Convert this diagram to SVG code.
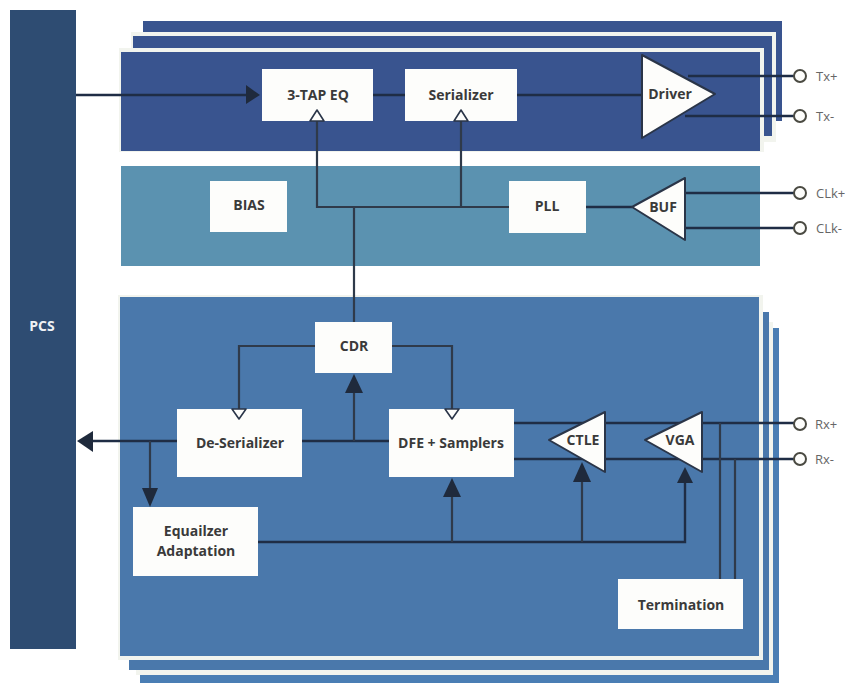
<svg xmlns="http://www.w3.org/2000/svg" width="845" height="683" viewBox="0 0 845 683">
<style>
.box{fill:#fdfdfb}
.lbl{font-family:"Open Sans","Liberation Sans",sans-serif;font-size:14px;font-weight:700;fill:#3a3a3a;text-anchor:middle}
.pin{font-family:"Open Sans","Liberation Sans",sans-serif;font-size:13px;fill:#666;text-anchor:start}
.w{fill:none;stroke:#1f2d45;stroke-width:2.4}
.t{fill:none;stroke:#2f3a4a;stroke-width:2.2}
.tri{fill:#fdfdfb;stroke:#2a3548;stroke-width:2;stroke-linejoin:round}
.pt{fill:#fdfdfb;stroke:#4a4a42;stroke-width:2}
.a{fill:#1f2a3c}
.c{fill:#fdfdfb;stroke:#2a3548;stroke-width:1.6;stroke-linejoin:round}
.tx{fill:#39548f}.rx{fill:#4a78ab}.rxb{fill:#4a7eb4}
</style>
<rect width="845" height="683" fill="#fff"/>
<g id="stack-tx">
<rect class="tx" x="143" y="21" width="639" height="100"/>
<rect x="131" y="32" width="645" height="110" fill="#f2f4ee"/>
<rect class="tx" x="133" y="36" width="639" height="100"/>
<rect x="119" y="48" width="645" height="104" fill="#f2f4ee"/>
</g>
<g id="stack-rx">
<rect class="rxb" x="140" y="328" width="639" height="355"/>
<rect x="136" y="322" width="637" height="353" fill="#f2f4ee"/>
<rect class="rx" x="129" y="312" width="640" height="358"/>
<rect x="118" y="295" width="645" height="365" fill="#f2f4ee"/>
</g>
<g id="PCS"><rect x="10" y="10" width="66" height="639" fill="#2e4c72"/><text x="42" y="331" text-anchor="middle" font-family="Open Sans, Liberation Sans, sans-serif" font-size="14" font-weight="700" fill="#eef1f4">PCS</text></g>
<g id="tx-panel"><rect class="tx" x="121" y="52" width="639" height="99"/></g>
<g id="clk-panel"><rect x="121" y="166" width="639" height="100" fill="#5b92b0"/></g>
<g id="rx-panel"><rect class="rx" x="120" y="297" width="639" height="359"/></g>
<g id="connectors">
<path class="w" d="M76 95H248"/><polygon class="a" points="260,95 246,85 246,104"/>
<path class="w" d="M373 95H405M517 95H642"/>
<path class="w" d="M688 76H794M685 116H794"/>
<path class="t" d="M317 120V207H509M461 120V207M354 207V322"/>
<path class="w" d="M586 207H632M685 193H794M685 228H794"/>
<path class="t" d="M315 346H239V410M392 346H452V410"/>
<path class="w" d="M177 441H92M302 441H389"/><polygon class="a" points="77,441 93,431 93,452"/>
<path class="t" d="M150 441V490"/><polygon class="a" points="150,507 142,488 158,488"/>
<path class="t" d="M354 441V392"/><polygon class="a" points="354,374 345,393 363,393"/>
<path class="w" d="M258 542H685V482"/>
<path class="t" d="M452 542V495M582 542V480"/>
<polygon class="a" points="452,478 443,497 461,497"/>
<path class="w" d="M514 423H794M514 459H794"/>
<path class="t" d="M720 423V579M735 459V579"/>
</g>
<g id="n3tap"><rect class="box" x="262" y="69" width="111" height="52"/><text class="lbl" x="318" y="100">3-TAP EQ</text></g>
<g id="serializer"><rect class="box" x="405" y="69" width="112" height="52"/><text class="lbl" x="461" y="100">Serializer</text></g>
<g id="bias"><rect class="box" x="210" y="181" width="77" height="51"/><text class="lbl" x="249" y="210">BIAS</text></g>
<g id="pll"><rect class="box" x="509" y="181" width="77" height="52"/><text class="lbl" x="547" y="211">PLL</text></g>
<g id="cdr"><rect class="box" x="315" y="322" width="77" height="51"/><text class="lbl" x="354" y="351">CDR</text></g>
<g id="deser"><rect class="box" x="177" y="409" width="125" height="68"/><text class="lbl" x="240" y="448">De-Serializer</text></g>
<g id="dfe"><rect class="box" x="389" y="409" width="125" height="68"/><text class="lbl" x="451" y="448">DFE + Samplers</text></g>
<g id="eq"><rect class="box" x="133" y="507" width="125" height="69"/><text class="lbl" x="196" y="536">Equailzer</text><text class="lbl" x="196" y="556">Adaptation</text></g>
<g id="term"><rect class="box" x="618" y="579" width="125" height="50"/><text class="lbl" x="681" y="610">Termination</text></g>
<g id="chevrons">
<path class="c" d="M310 121 317 110 324 121Z"/><path class="c" d="M454 121 461 110 468 121Z"/>
<path class="c" d="M232 409 239 419 246 409Z"/><path class="c" d="M445 409 452 419 459 409Z"/>
</g>
<g id="driver"><polygon class="tri" points="642,55 642,138 715,94"/><text class="lbl" x="670" y="99">Driver</text></g>
<g id="buf"><polygon class="tri" points="632,207 685,178 685,240"/><text class="lbl" x="663" y="212">BUF</text></g>
<g id="ctle"><polygon class="tri" points="549,440 605,412 605,472"/><text class="lbl" x="583" y="445">CTLE</text></g>
<g id="vga"><polygon class="tri" points="645,440 702,412 702,472"/><text class="lbl" x="680" y="445">VGA</text></g>
<g id="control-arrowheads">
<polygon class="a" points="582,462 573,482 591,482"/>
<polygon class="a" points="685,467 677,483 693,483"/>
</g>
<g id="pin-tx-p"><circle class="pt" cx="800" cy="76" r="6"/><text class="pin" x="816" y="81">Tx+</text></g>
<g id="pin-tx-n"><circle class="pt" cx="800" cy="116" r="6"/><text class="pin" x="816" y="121">Tx-</text></g>
<g id="pin-clk-p"><circle class="pt" cx="800" cy="193" r="6"/><text class="pin" x="816" y="198">CLk+</text></g>
<g id="pin-clk-n"><circle class="pt" cx="800" cy="228" r="6"/><text class="pin" x="816" y="233">CLk-</text></g>
<g id="pin-rx-p"><circle class="pt" cx="800" cy="424" r="6"/><text class="pin" x="815" y="429">Rx+</text></g>
<g id="pin-rx-n"><circle class="pt" cx="800" cy="459" r="6"/><text class="pin" x="815" y="464">Rx-</text></g>
</svg>
